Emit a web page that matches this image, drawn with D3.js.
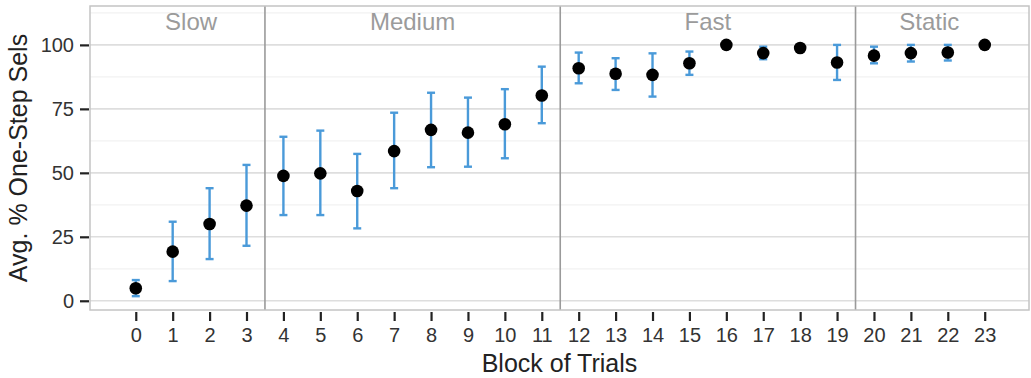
<!DOCTYPE html>
<html>
<head>
<meta charset="utf-8">
<script src="https://cdn.jsdelivr.net/npm/d3@7"></script>
<style>
  body { margin: 0; background: #fff; }
  text { font-family: "Liberation Sans", Arial, sans-serif; }
</style>
</head>
<body>
<div id="plot"></div>
<script>
"use strict";

// block index, mean, and error bar bounds
const blocks = [0, 1, 2, 3, 4, 5, 6, 7, 8, 9, 10, 11, 12, 13, 14, 15, 16, 17, 18, 19, 20, 21, 22, 23];
const means = [4.9, 19.2, 30.0, 37.2, 48.8, 49.8, 42.9, 58.5, 66.8, 65.7, 69.0, 80.2,
  90.9, 88.7, 88.3, 92.8, 100, 96.8, 98.8, 93.1, 95.8, 96.8, 97.0, 100];
const upper = [8.1, 30.9, 44.0, 53.1, 64.1, 66.5, 57.4, 73.5, 81.3, 79.4, 82.7, 91.5,
  97.0, 94.8, 96.7, 97.4, 100, 99.3, 99.0, 100, 99.3, 100, 100, 100];
const lower = [1.8, 7.7, 16.3, 21.5, 33.5, 33.5, 28.3, 44.0, 52.2, 52.4, 55.7, 69.4,
  85.0, 82.4, 79.8, 88.3, 100, 94.4, 98.6, 86.3, 92.8, 93.5, 93.9, 100];

// speed conditions: label and the blocks they span
const phases = ["Slow", "Medium", "Fast", "Static"];
const phaseStart = [0, 4, 12, 20];
const phaseEnd = [3, 11, 19, 23];

const yTicks = [0, 25, 50, 75, 100];
const yMinor = [12.5, 37.5, 62.5, 87.5, 112.5];

const msm = {
  width: 1031,
  height: 378,
  left: 90,
  right: 1029,
  top: 6,
  bottom: 310
};

const svg = d3.select("#plot").append("svg")
  .attr("width", msm.width)
  .attr("height", msm.height);

const xScale = d3.scaleLinear()
  .domain([-1.24, 24.2])
  .range([msm.left, msm.right]);

const yScale = d3.scaleLinear()
  .domain([-3.6, 115.2])
  .range([msm.bottom, msm.top]);

// grid
svg.append("g").selectAll("line")
  .data(yMinor)
  .enter().append("line")
  .attr("x1", msm.left).attr("x2", msm.right)
  .attr("y1", d => yScale(d)).attr("y2", d => yScale(d))
  .attr("stroke", "#f2f2f2").attr("stroke-width", 1.2);

svg.append("g").selectAll("line")
  .data(yTicks)
  .enter().append("line")
  .attr("x1", msm.left).attr("x2", msm.right)
  .attr("y1", d => yScale(d)).attr("y2", d => yScale(d))
  .attr("stroke", "#dedede").attr("stroke-width", 1.6);

// separators between phases
svg.append("g").selectAll("line")
  .data(phaseEnd.slice(0, 3))
  .enter().append("line")
  .attr("x1", d => xScale(d + 0.5)).attr("x2", d => xScale(d + 0.5))
  .attr("y1", msm.top).attr("y2", msm.bottom)
  .attr("stroke", "#9a9a9a").attr("stroke-width", 1.6);

// panel border
svg.append("rect")
  .attr("x", msm.left).attr("y", msm.top)
  .attr("width", msm.right - msm.left).attr("height", msm.bottom - msm.top)
  .attr("fill", "none")
  .attr("stroke", "#c4c4c4").attr("stroke-width", 1.5);

// phase labels
svg.append("g").selectAll("text")
  .data(phases)
  .enter().append("text")
  .attr("x", (d, i) => xScale((phaseStart[i] + phaseEnd[i]) / 2))
  .attr("y", 30)
  .attr("text-anchor", "middle")
  .style("font-size", "24px")
  .attr("fill", "#9b9b9b")
  .text(d => d);

// error bars
const bars = svg.append("g")
  .attr("stroke", "#4a9ad9")
  .attr("stroke-width", 2.4);

bars.selectAll(".stem")
  .data(blocks)
  .enter().append("line")
  .attr("x1", d => xScale(d)).attr("x2", d => xScale(d))
  .attr("y1", (d, i) => yScale(upper[i])).attr("y2", (d, i) => yScale(lower[i]));

bars.selectAll(".capTop")
  .data(blocks)
  .enter().append("line")
  .attr("x1", d => xScale(d) - 4).attr("x2", d => xScale(d) + 4)
  .attr("y1", (d, i) => yScale(upper[i])).attr("y2", (d, i) => yScale(upper[i]));

bars.selectAll(".capBot")
  .data(blocks)
  .enter().append("line")
  .attr("x1", d => xScale(d) - 4).attr("x2", d => xScale(d) + 4)
  .attr("y1", (d, i) => yScale(lower[i])).attr("y2", (d, i) => yScale(lower[i]));

// points
svg.append("g").selectAll("circle")
  .data(blocks)
  .enter().append("circle")
  .attr("cx", d => xScale(d))
  .attr("cy", (d, i) => yScale(means[i]))
  .attr("r", 6.3)
  .attr("fill", "#000");

// axes
const yAxis = d3.axisLeft(yScale).tickValues(yTicks).tickSize(9).tickPadding(6);
const yG = svg.append("g")
  .attr("transform", "translate(" + (msm.left - 1) + ",0)")
  .call(yAxis);

const xAxis = d3.axisBottom(xScale).tickValues(blocks).tickSize(9).tickPadding(7)
  .tickFormat(d3.format("d"));
const xG = svg.append("g")
  .attr("transform", "translate(0," + (msm.bottom + 2) + ")")
  .call(xAxis);

[yG, xG].forEach(g => {
  g.select(".domain").remove();
  g.selectAll(".tick line").attr("stroke", "#222").attr("stroke-width", 2.2);
  g.selectAll(".tick text")
    .attr("fill", "#333")
    .style("font-size", "20px")
    .style("font-family", "'Liberation Sans', Arial, sans-serif");
});

// axis titles
svg.append("text")
  .attr("x", (msm.left + msm.right) / 2)
  .attr("y", 372)
  .attr("text-anchor", "middle")
  .style("font-size", "25px")
  .attr("fill", "#222")
  .text("Block of Trials");

svg.append("text")
  .attr("transform", "translate(27," + (msm.top + msm.bottom) / 2 + ") rotate(-90)")
  .attr("text-anchor", "middle")
  .style("font-size", "25px")
  .attr("fill", "#222")
  .text("Avg. % One-Step Sels");
</script>
</body>
</html>
